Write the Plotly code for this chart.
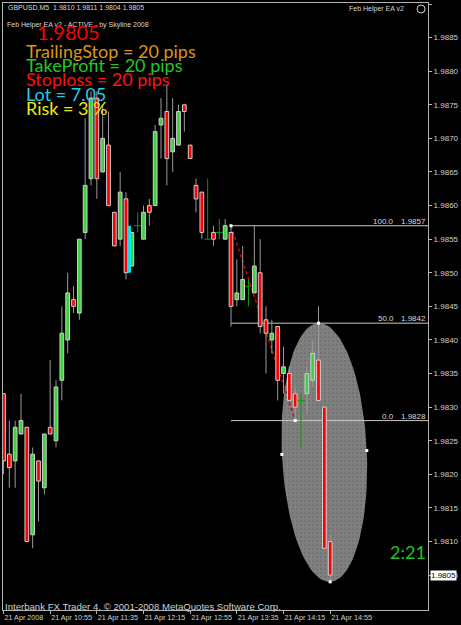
import math
import plotly.graph_objects as go

# ---------------- data ----------------
opens  = [1.9832,1.9823,1.9822,1.9826,1.9827,1.9811,1.9822,1.9818,1.9827,1.9825,
          1.9834,1.9840,1.9846,1.9844,1.9856,1.9864,1.9876,1.9865,1.9869,1.9859,
          1.9855,1.9861,1.9851,1.9857,1.9855,1.9860,1.9860,1.9872,1.9874,1.9868,
          1.9869,1.9875,1.9869,1.9863,1.9862,1.9855,1.9856,1.9856,1.9855,1.9856,
          1.9846,1.9846,1.9848,1.9847,1.9850,1.9843,1.9840,1.9842,1.9835,1.9835,
          1.9832,1.9831,1.9832,1.9834,1.9837,1.9830,1.9810]
highs  = [1.9832,1.9828,1.9828,1.9832,1.9827,1.9824,1.9822,1.9826,1.9837,1.9834,
          1.9845,1.9850,1.9848,1.9855,1.9873,1.9877,1.9877,1.9875,1.9874,1.9859,
          1.9865,1.9862,1.9856,1.9859,1.9860,1.9861,1.9872,1.9876,1.9878,1.9876,
          1.9875,1.9875,1.9869,1.9864,1.9862,1.9864,1.9857,1.9858,1.9858,1.9857,
          1.9852,1.9854,1.9849,1.9857,1.9855,1.9845,1.9843,1.9842,1.9839,1.9836,
          1.9833,1.9832,1.9836,1.9840,1.9845,1.9830,1.9811]
lows   = [1.9820,1.9818,1.9818,1.9826,1.9810,1.9809,1.9813,1.9817,1.9826,1.9824,
          1.9831,1.9838,1.9844,1.9843,1.9855,1.9863,1.9861,1.9865,1.9860,1.9854,
          1.9854,1.9849,1.9851,1.9856,1.9855,1.9857,1.9860,1.9867,1.9863,1.9865,
          1.9869,1.9871,1.9867,1.9859,1.9855,1.9855,1.9854,1.9855,1.9855,1.9842,
          1.9845,1.9846,1.9845,1.9847,1.9841,1.9835,1.9838,1.9831,1.9832,1.9831,
          1.9828,1.9824,1.9829,1.9833,1.9831,1.9809,1.9804]
closes = [1.9822,1.9821,1.9827,1.9828,1.9810,1.9823,1.9819,1.9826,1.9826,1.9833,
          1.9841,1.9847,1.9845,1.9855,1.9863,1.9876,1.9864,1.9870,1.9860,1.9854,
          1.9862,1.9850,1.9856,1.9857,1.9859,1.9859,1.9871,1.9873,1.9867,1.9870,
          1.9874,1.9874,1.9867,1.9861,1.9856,1.9855,1.9855,1.9856,1.9857,1.9845,
          1.9847,1.9849,1.9848,1.9851,1.9842,1.9841,1.9841,1.9834,1.9836,1.9831,
          1.9830,1.9831,1.9835,1.9838,1.9831,1.9809,1.9805]
doji_bars = [23, 35, 37, 42, 51]

x_tick_bars = [0, 8, 16, 24, 32, 40, 48, 56]
x_tick_labels = ["21 Apr 2008", "21 Apr 10:55", "21 Apr 11:35", "21 Apr 12:15",
                 "21 Apr 12:55", "21 Apr 13:35", "21 Apr 14:15", "21 Apr 14:55"]
y_ticks = [1.9805 + 0.0005 * k for k in range(18)]

fib_start_bar, fib_end_bar = 39, 50
fib_high, fib_low = 1.9857, 1.9828
fib_levels = [100.0, 50.0, 0.0]

ell_top = (54, 1.98425)
ell_bot = (56, 1.9804)
ell_ratio = 0.33

cyan_bar = [21.6]
cyan_low = [1.9850]
cyan_high = [1.9857]

header = "GBPUSD,M5  1.9810 1.9811 1.9804 1.9805"
ea_line = "Feb Helper EA v2 - ACTIVE - by Skyline 2008"
info_lines = [("TrailingStop = 20 pips", "#DC9614"),
              ("TakeProfit = 20 pips", "#22C822"),
              ("Stoploss = 20 pips", "#FF1010"),
              ("Lot = 7.05", "#2CC8E8"),
              ("Risk = 3 %", "#EEEE10")]
last_price = 1.9805
timer_text = "2:21"

# ---------------- layout geometry ----------------
W, H = 461, 625
PL, PT, PR, PB = 2, 2, 430, 610
PW, PH = PR - PL, PB - PT
def px(x): return (x - PL) / PW
def py(y): return 1 - (y - PT) / PH

X_RANGE = [-0.085, 72.77]
Y_RANGE = [1.979981, 1.989015]
bar_px = PW / (X_RANGE[1] - X_RANGE[0])
price_px = PH / (Y_RANGE[1] - Y_RANGE[0])
HALF = 0.32

GRAY = "#b4b4b4"
fig = go.Figure()

# ellipse (drawn first, under everything)
tx, ty = ell_top[0] * bar_px, ell_top[1] * price_px
bx, by = ell_bot[0] * bar_px, ell_bot[1] * price_px
cx, cy = (tx + bx) / 2, (ty + by) / 2
ax, ay = (tx - bx) / 2, (ty - by) / 2
pbx, pby = -ay * ell_ratio, ax * ell_ratio
ex, ey = [], []
for k in range(121):
    t = 2 * math.pi * k / 120
    X = cx + math.cos(t) * ax + math.sin(t) * pbx
    Y = cy + math.cos(t) * ay + math.sin(t) * pby
    ex.append(X / bar_px); ey.append(Y / price_px)
fig.add_trace(go.Scatter(x=ex, y=ey, mode="lines", fill="toself",
                         fillcolor="#808080", line=dict(color="#808080", width=0),
                         fillpattern=dict(shape=".", bgcolor="#808080", fgcolor="#646464",
                                          size=4, solidity=0.25),
                         hoverinfo="skip", showlegend=False))

# fib lines
for lv in fib_levels:
    pr = fib_low + (fib_high - fib_low) * lv / 100.0
    fig.add_trace(go.Scatter(x=[fib_start_bar, 200], y=[pr, pr], mode="lines",
                             line=dict(color="#c8c8c8", width=1),
                             hoverinfo="skip", showlegend=False))
# red dotted trendline
fig.add_trace(go.Scatter(x=[fib_start_bar, fib_end_bar], y=[fib_high, fib_low], mode="lines",
                         line=dict(color="#e00000", width=1.5, dash="dot"),
                         hoverinfo="skip", showlegend=False))

# wicks
wx, wy, dx, dy = [], [], [], []
for i in range(len(opens)):
    if i in doji_bars:
        dx += [i, i, None]; dy += [lows[i], highs[i], None]
    else:
        wx += [i, i, None]; wy += [lows[i], highs[i], None]
fig.add_trace(go.Scatter(x=wx, y=wy, mode="lines", line=dict(color="#9a9a9a", width=1),
                         hoverinfo="skip", showlegend=False))
fig.add_trace(go.Scatter(x=dx, y=dy, mode="lines", line=dict(color="#0a9a0a", width=1),
                         hoverinfo="skip", showlegend=False))

# bodies as filled rectangles
def rects(idx, lo, hi, half):
    xs, ys = [], []
    for i, l, h in zip(idx, lo, hi):
        xs += [i - half, i + half, i + half, i - half, i - half, None]
        ys += [l, l, h, h, l, None]
    return xs, ys

for up, col in [(True, "#3cd23c"), (False, "#ff0000")]:
    idx = [i for i in range(len(opens)) if i not in doji_bars and (closes[i] > opens[i]) == up]
    lo = [min(opens[i], closes[i]) for i in idx]
    hi = [max(opens[i], closes[i]) for i in idx]
    xs, ys = rects(idx, lo, hi, HALF)
    fig.add_trace(go.Scatter(x=xs, y=ys, mode="lines", fill="toself", fillcolor=col,
                             line=dict(color="#d0d0d0", width=1),
                             hoverinfo="skip", showlegend=False))
xs, ys = rects(cyan_bar, cyan_low, cyan_high, 0.25)
fig.add_trace(go.Scatter(x=xs, y=ys, mode="lines", fill="toself", fillcolor="#00e8f0",
                         line=dict(color="#00e8f0", width=0),
                         hoverinfo="skip", showlegend=False))
fig.add_trace(go.Scatter(x=doji_bars, y=[opens[i] for i in doji_bars], mode="markers",
                         marker=dict(symbol="line-ew", size=5, line=dict(color="#0a9a0a", width=1)),
                         hoverinfo="skip", showlegend=False))

# handles
hxs = [fib_start_bar, fib_end_bar, ell_top[0], ell_bot[0],
       (cx + pbx) / bar_px, (cx - pbx) / bar_px]
hys = [fib_high, fib_low, ell_top[1], ell_bot[1],
       (cy + pby) / price_px, (cy - pby) / price_px]
fig.add_trace(go.Scatter(x=hxs, y=hys, mode="markers",
                         marker=dict(symbol="square", size=3, color="white"),
                         hoverinfo="skip", showlegend=False))

ann = []
small = dict(family="Liberation Sans", size=8, color="#d8d8d8")
tiny = dict(family="Liberation Sans", size=7, color="#d8d8d8")
ann.append(dict(text=header, x=px(5), y=py(7), xanchor="left", yanchor="middle", font=tiny))
ann.append(dict(text=ea_line, x=px(4), y=py(24), xanchor="left", yanchor="middle", font=tiny))
ann.append(dict(text="Feb Helper EA v2", x=px(408), y=py(8), xanchor="right", yanchor="middle", font=tiny))
ann.append(dict(text=f"{last_price:.4f}", x=px(34), y=py(31), xanchor="left", yanchor="middle",
                font=dict(family="Lato", size=20, color="#ff0000")))
for k, (t, col) in enumerate(info_lines):
    ann.append(dict(text=t, x=px(23), y=py(50 + 14.3 * k), xanchor="left", yanchor="middle",
                    font=dict(family="Lato", size=18, color=col)))
ann.append(dict(text=timer_text, x=px(430), y=py(552), xanchor="right", yanchor="middle",
                font=dict(family="Lato", size=18, color="#22c022")))
ann.append(dict(text="Interbank FX Trader 4, \u00a9 2001-2008 MetaQuotes Software Corp.",
                x=px(2), y=py(606), xanchor="left", yanchor="middle",
                font=dict(family="Liberation Sans", size=9.6, color="#d0d0d0")))
for lv in fib_levels:
    pr = fib_low + (fib_high - fib_low) * lv / 100.0
    ann.append(dict(text=f"{lv:.1f}", x=px(398), y=pr, yref="y", xanchor="right", yanchor="bottom",
                    font=small, yshift=-2))
    ann.append(dict(text=f"{pr:.4f}", x=px(430), y=pr, yref="y", xanchor="right", yanchor="bottom",
                    font=small, yshift=-2))
ann.append(dict(text=f"{last_price:.4f}", x=px(432), y=last_price, yref="y", xanchor="left",
                yanchor="middle", bgcolor="white", borderpad=0,
                font=dict(family="Liberation Sans", size=8, color="black")))
for a in ann:
    a.setdefault("xref", "paper"); a.setdefault("yref", "paper")
    a["showarrow"] = False

fig.update_layout(
    width=W, height=H, margin=dict(l=PL, r=W - PR, t=PT, b=H - PB),
    paper_bgcolor="black", plot_bgcolor="black",
    showlegend=False, annotations=ann,
    shapes=[dict(type="circle", xref="paper", yref="paper",
                 x0=px(419), x1=px(427), y0=py(12), y1=py(4),
                 line=dict(color="#d0d0d0", width=1))],
    xaxis=dict(range=X_RANGE, showgrid=False, zeroline=False, showline=True, mirror=True,
               linecolor=GRAY, linewidth=1, tickvals=x_tick_bars, ticktext=x_tick_labels,
               ticks="outside", ticklen=3, tickcolor=GRAY, ticklabelposition="outside right",
               tickangle=0,
               tickfont=dict(family="Liberation Sans", size=7.2, color="#d0d0d0")),
    yaxis=dict(range=Y_RANGE, side="right", showgrid=False, zeroline=False, showline=True,
               mirror=True, linecolor=GRAY, linewidth=1, tickvals=y_ticks,
               ticktext=[f"{v:.4f}" for v in y_ticks], ticks="outside", ticklen=3,
               tickcolor=GRAY, tickfont=dict(family="Liberation Sans", size=8, color="#d0d0d0")),
)
fig.write_html("out.html")
